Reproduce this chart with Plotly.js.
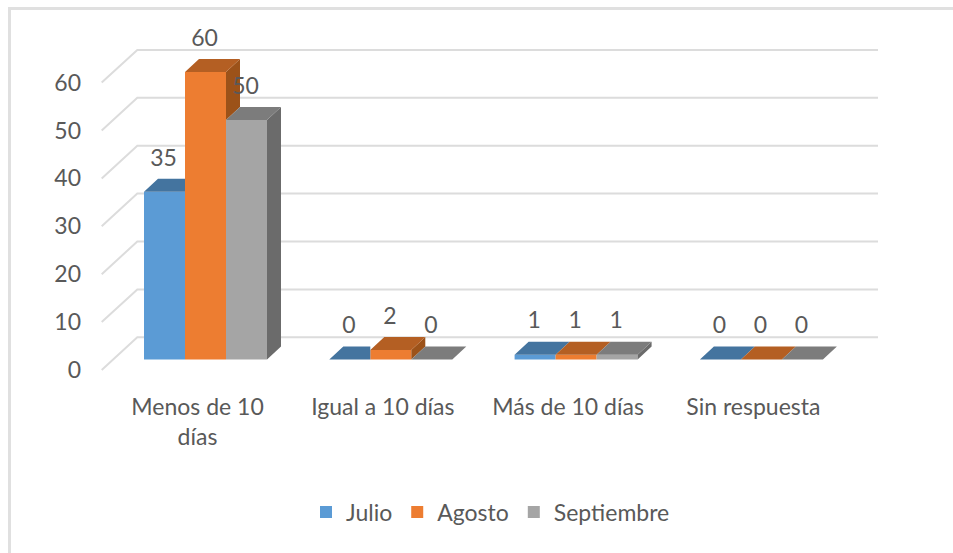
<!DOCTYPE html>
<html>
<head>
<meta charset="utf-8">
<script src="https://cdn.plot.ly/plotly-3.0.1.min.js"></script>
<style>html,body{margin:0;padding:0;background:#fff}#chart{width:953px;height:553px}</style>
</head>
<body>
<div id="chart"></div>
<script>
const categories = ['Menos de 10<br>días', 'Igual a 10 días', 'Más de 10 días', 'Sin respuesta'];
const julio = [35, 0, 1, 0];
const agosto = [60, 2, 1, 0];
const septiembre = [50, 0, 1, 0];
const seriesNames = ['Julio', 'Agosto', 'Septiembre'];
const frontColors = ['#5b9bd5', '#ed7d31', '#a5a5a5'];
const topColors = ['#44749f', '#b45f23', '#7c7c7c'];
const sideColors = ['#3a6389', '#9c5219', '#6b6b6b'];
const yTicks = [0, 10, 20, 30, 40, 50, 60];

const FONT = 'Lato,"Liberation Sans",sans-serif';
const SIZE = 23;
const TEXT = '#595959';
const pxX = 185.3, pxY = 4.79;
const plotL = 100, plotR = 880, plotT = 30, plotB = 390;
const xOrigin = 205.5, yOrigin = 359.5;
const barW = 41 / pxX;
const depthX = 14 / pxX, depthY = 13 / pxY;
const wallFrontX = (101.7 - xOrigin) / pxX, wallBackX = (137.3 - xOrigin) / pxX;
const wallEndX = (878 - xOrigin) / pxX;
const wallFrontY = (yOrigin - 370) / pxY, wallBackY = (yOrigin - 337.3) / pxY;

const all = [julio, agosto, septiembre];
const left = (c, s) => c + (s - 1.5) * barW;
const traces = [];

all.forEach((vals, s) => {
  traces.push({
    type: 'bar', name: seriesNames[s], x: categories.map((_, c) => left(c, s) + barW / 2),
    y: vals, width: barW, marker: {color: frontColors[s], line: {width: 0}},
    hoverinfo: 'y', showlegend: true
  });
});

all.forEach((vals, s) => {
  const next = all[s + 1];
  const tx = [], ty = [], sx = [], sy = [];
  vals.forEach((v, c) => {
    const x0 = left(c, s), x1 = x0 + barW;
    const nv = next ? next[c] : null;
    if (next && nv > v) {
      tx.push(x0, x0 + depthX, x1, x1, x0, null);
      ty.push(v, v + depthY, v + depthY, v, v, null);
    } else {
      tx.push(x0, x0 + depthX, x1 + depthX, x1, x0, null);
      ty.push(v, v + depthY, v + depthY, v, v, null);
      const bottom = next ? nv : 0;
      if (v > bottom) {
        sx.push(x1, x1 + depthX, x1 + depthX, x1, x1, null);
        sy.push(v, v + depthY, bottom + depthY, bottom, v, null);
      }
    }
  });
  traces.push({type: 'scatter', mode: 'lines', x: sx, y: sy, fill: 'toself', fillcolor: sideColors[s],
    line: {width: 0}, hoverinfo: 'skip', showlegend: false});
  traces.push({type: 'scatter', mode: 'lines', x: tx, y: ty, fill: 'toself', fillcolor: topColors[s],
    line: {width: 0}, hoverinfo: 'skip', showlegend: false});
});

all.forEach((vals, s) => {
  traces.push({
    type: 'scatter', mode: 'text', x: categories.map((_, c) => left(c, s) + barW / 2 - 1 / pxX),
    y: vals.map(v => v + 32 / pxY), text: vals.map(String), textposition: 'middle center',
    textfont: {family: FONT, size: SIZE, color: TEXT}, hoverinfo: 'skip', showlegend: false, cliponaxis: false
  });
});

const shapes = yTicks.map(t => ({
  type: 'path', xref: 'x', yref: 'y', layer: 'below',
  path: `M${wallFrontX},${t + wallFrontY} L${wallBackX},${t + wallBackY} L${wallEndX},${t + wallBackY}`,
  line: {color: '#dcdcdc', width: 2}
}));
shapes.push(
  {type: 'line', xref: 'paper', yref: 'paper', layer: 'below',
   x0: (8 - plotL) / (plotR - plotL), x1: (953 - plotL) / (plotR - plotL), y0: (plotB - 8.5) / (plotB - plotT), y1: (plotB - 8.5) / (plotB - plotT),
   line: {color: '#e0e0e0', width: 3}},
  {type: 'line', xref: 'paper', yref: 'paper', layer: 'below',
   x0: (9.5 - plotL) / (plotR - plotL), x1: (9.5 - plotL) / (plotR - plotL), y0: (plotB - 553) / (plotB - plotT), y1: (plotB - 8) / (plotB - plotT),
   line: {color: '#e0e0e0', width: 3}}
);

const layout = {
  width: 953, height: 553, paper_bgcolor: '#fff', plot_bgcolor: 'rgba(0,0,0,0)',
  margin: {l: plotL, r: 953 - plotR, t: plotT, b: 553 - plotB},
  barmode: 'overlay', showlegend: true, font: {family: FONT, color: TEXT, size: SIZE},
  xaxis: {
    type: 'linear', range: [(plotL - xOrigin) / pxX, (plotR - xOrigin) / pxX], showgrid: false, zeroline: false,
    showline: false, ticks: '', tickmode: 'array',
    tickvals: categories.map((_, c) => c - 8 / pxX), ticktext: categories,
    tickfont: {family: FONT, size: SIZE, color: TEXT}, tickangle: 0, ticklabelstandoff: 1
  },
  yaxis: {
    type: 'linear', range: [(yOrigin - plotB) / pxY, (yOrigin - plotT) / pxY], showgrid: false, zeroline: false,
    showline: false, ticks: '', tickmode: 'array',
    tickvals: yTicks.map(t => t + wallFrontY), ticktext: yTicks.map(String),
    tickfont: {family: FONT, size: SIZE, color: TEXT}, ticklabelstandoff: 18
  },
  legend: {
    orientation: 'h', xref: 'paper', yref: 'paper', x: (306 - plotL) / (plotR - plotL), xanchor: 'left',
    y: (plotB - 512) / (plotB - plotT), yanchor: 'middle', font: {family: FONT, size: SIZE, color: TEXT},
    bgcolor: 'rgba(0,0,0,0)'
  },
  shapes: shapes
};

Plotly.newPlot('chart', traces, layout, {displayModeBar: false, responsive: false});
</script>
</body>
</html>
